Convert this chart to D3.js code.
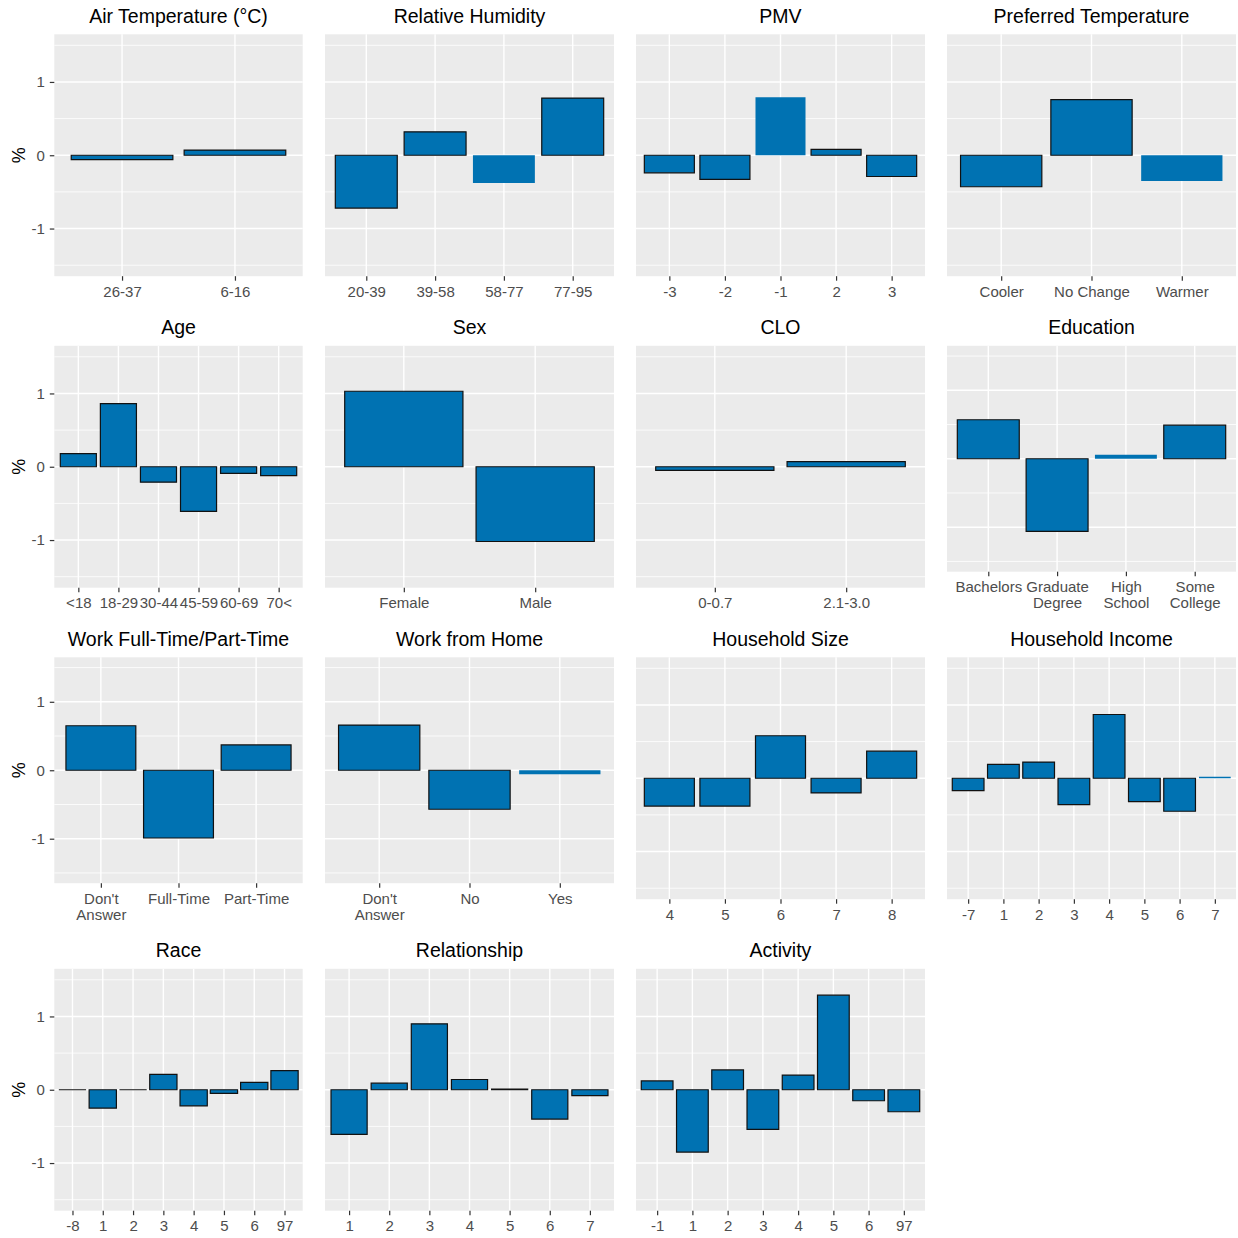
<!DOCTYPE html>
<html>
<head>
<meta charset="utf-8">
<script src="https://cdn.jsdelivr.net/npm/d3@7"></script>
<style>
  html, body { margin: 0; padding: 0; background: #fff; }
  svg { display: block; font-family: "Liberation Sans", Arial, sans-serif; }
</style>
</head>
<body>
<svg id="chart" width="1238" height="1238"></svg>
<script>
// ---- data: one category list and one value list per panel (values in %) ----
const airTempCats = ["26-37", "6-16"];
const airTempVals = [-0.06, 0.07];

const humidityCats = ["20-39", "39-58", "58-77", "77-95"];
const humidityVals = [-0.72, 0.32, -0.38, 0.78];

const pmvCats = ["-3", "-2", "-1", "2", "3"];
const pmvVals = [-0.24, -0.33, 0.79, 0.08, -0.29];

const prefTempCats = ["Cooler", "No Change", "Warmer"];
const prefTempVals = [-0.43, 0.76, -0.35];

const ageCats = ["<18", "18-29", "30-44", "45-59", "60-69", "70<"];
const ageVals = [0.18, 0.86, -0.21, -0.61, -0.09, -0.12];

const sexCats = ["Female", "Male"];
const sexVals = [1.03, -1.02];

const cloCats = ["0-0.7", "2.1-3.0"];
const cloVals = [-0.05, 0.07];

const educationCats = ["Bachelors", "Graduate\nDegree", "High\nSchool", "Some\nCollege"];
const educationVals = [0.57, -1.06, 0.06, 0.49];

const workCats = ["Don't\nAnswer", "Full-Time", "Part-Time"];
const workVals = [0.65, -0.99, 0.37];

const wfhCats = ["Don't\nAnswer", "No", "Yes"];
const wfhVals = [0.66, -0.57, -0.06];

const hhSizeCats = ["4", "5", "6", "7", "8"];
const hhSizeVals = [-0.38, -0.38, 0.58, -0.20, 0.37];

const hhIncomeCats = ["-7", "1", "2", "3", "4", "5", "6", "7"];
const hhIncomeVals = [-0.17, 0.19, 0.22, -0.36, 0.87, -0.32, -0.45, 0.02];

const raceCats = ["-8", "1", "2", "3", "4", "5", "6", "97"];
const raceVals = [0.0, -0.25, 0.0, 0.21, -0.22, -0.05, 0.10, 0.26];

const relationshipCats = ["1", "2", "3", "4", "5", "6", "7"];
const relationshipVals = [-0.61, 0.09, 0.90, 0.14, 0.01, -0.40, -0.08];

const activityCats = ["-1", "1", "2", "3", "4", "5", "6", "97"];
const activityVals = [0.12, -0.85, 0.27, -0.54, 0.20, 1.29, -0.15, -0.30];

// bars drawn without a black border: [panel title, category]
const borderless = [
  ["Relative Humidity", "58-77"],
  ["PMV", "-1"],
  ["Preferred Temperature", "Warmer"],
  ["Education", "High\nSchool"],
  ["Work from Home", "Yes"],
  ["Household Income", "7"]
];

const yMajor = [-1, 0, 1];
const yMinor = [-1.5, -0.5, 0.5, 1.5];
const yLimits = [-1.5, 1.5];

const panels = [
  { title: "Air Temperature (°C)", cats: airTempCats, vals: airTempVals },
  { title: "Relative Humidity", cats: humidityCats, vals: humidityVals },
  { title: "PMV", cats: pmvCats, vals: pmvVals },
  { title: "Preferred Temperature", cats: prefTempCats, vals: prefTempVals },
  { title: "Age", cats: ageCats, vals: ageVals },
  { title: "Sex", cats: sexCats, vals: sexVals },
  { title: "CLO", cats: cloCats, vals: cloVals },
  { title: "Education", cats: educationCats, vals: educationVals },
  { title: "Work Full-Time/Part-Time", cats: workCats, vals: workVals },
  { title: "Work from Home", cats: wfhCats, vals: wfhVals },
  { title: "Household Size", cats: hhSizeCats, vals: hhSizeVals },
  { title: "Household Income", cats: hhIncomeCats, vals: hhIncomeVals },
  { title: "Race", cats: raceCats, vals: raceVals },
  { title: "Relationship", cats: relationshipCats, vals: relationshipVals },
  { title: "Activity", cats: activityCats, vals: activityVals }
];

// ---- layout ----
const svg = d3.select("#chart");
const rowStep = 311.5, colStep = 311;
const tickLen = 4.5, lineH = 16;
const FILL = "#0072B2";

const span = yLimits[1] - yLimits[0];
const yDomain = [yLimits[0] - 0.05 * span, yLimits[1] + 0.05 * span];

panels.forEach((p, i) => {
  const r = Math.floor(i / 4), c = i % 4;
  const rowTop = r * rowStep;
  const nLines = d3.max(p.cats, d => d.split("\n").length);
  const top = rowTop + 34.3;
  const bottom = rowTop + 276.2 - (nLines - 1) * lineH;
  const left = c === 0 ? 54.3 : c * colStep + 14;
  const right = c === 0 ? 302.7 : c * colStep + 303;

  const x = d3.scalePoint().domain(p.cats).range([left, right]).padding(0.6);
  const bw = x.step() * 0.9;
  const y = d3.scaleLinear().domain(yDomain).range([bottom, top]);

  const g = svg.append("g");

  // panel background
  g.append("rect")
    .attr("x", left).attr("y", top)
    .attr("width", right - left).attr("height", bottom - top)
    .attr("fill", "#EBEBEB");

  // grid
  g.selectAll(".minor").data(yMinor).join("line")
    .attr("x1", left).attr("x2", right)
    .attr("y1", d => y(d)).attr("y2", d => y(d))
    .attr("stroke", "#fff").attr("stroke-width", 0.8);
  g.selectAll(".majorY").data(yMajor).join("line")
    .attr("x1", left).attr("x2", right)
    .attr("y1", d => y(d)).attr("y2", d => y(d))
    .attr("stroke", "#fff").attr("stroke-width", 1.4);
  g.selectAll(".majorX").data(p.cats).join("line")
    .attr("x1", d => x(d)).attr("x2", d => x(d))
    .attr("y1", top).attr("y2", bottom)
    .attr("stroke", "#fff").attr("stroke-width", 1.4);

  // bars
  const isPlain = d => borderless.some(b => b[0] === p.title && b[1] === d);
  g.selectAll(".bar").data(p.cats.map((d, k) => ({ cat: d, v: p.vals[k] }))).join("path")
    .attr("d", d => {
      const x0 = x(d.cat) - bw / 2, x1 = x(d.cat) + bw / 2;
      const y0 = y(0), y1 = y(d.v);
      return `M${x0},${y0}H${x1}V${y1}H${x0}Z`;
    })
    .attr("fill", FILL)
    .attr("stroke", d => isPlain(d.cat) ? "none" : "#111")
    .attr("stroke-width", 1.2);

  // x axis
  const xa = g.append("g")
    .attr("transform", `translate(0,${bottom})`)
    .call(d3.axisBottom(x).tickSize(tickLen).tickPadding(5.5));
  xa.select(".domain").remove();
  xa.selectAll(".tick line").attr("stroke", "#333").attr("stroke-width", 1.2);
  xa.selectAll(".tick text")
    .attr("fill", "#4D4D4D").attr("font-size", 15).attr("font-family", null)
    .each(function (d) {
      const t = d3.select(this);
      const parts = d.split("\n");
      t.text(null);
      parts.forEach((s, k) => {
        t.append("tspan").attr("x", 0).attr("dy", k === 0 ? "0.71em" : lineH).text(s);
      });
      t.attr("dy", null);
    });

  // y axis on the first column only
  if (c === 0) {
    const ya = g.append("g")
      .attr("transform", `translate(${left},0)`)
      .call(d3.axisLeft(y).tickValues(yMajor).tickFormat(d => String(d)).tickSize(tickLen).tickPadding(5));
    ya.select(".domain").remove();
    ya.selectAll(".tick line").attr("stroke", "#333").attr("stroke-width", 1.2);
    ya.selectAll(".tick text").attr("fill", "#4D4D4D").attr("font-size", 15).attr("font-family", null);

    g.append("text")
      .attr("transform", `translate(19,${(top + bottom) / 2}) rotate(-90)`)
      .attr("text-anchor", "middle").attr("dy", "0.35em")
      .attr("font-size", 18).attr("fill", "#000")
      .text("%");
  }

  // panel title
  g.append("text")
    .attr("x", (left + right) / 2).attr("y", rowTop + 22.5)
    .attr("text-anchor", "middle")
    .attr("font-size", 19.5).attr("fill", "#000")
    .text(p.title);
});
</script>
</body>
</html>
